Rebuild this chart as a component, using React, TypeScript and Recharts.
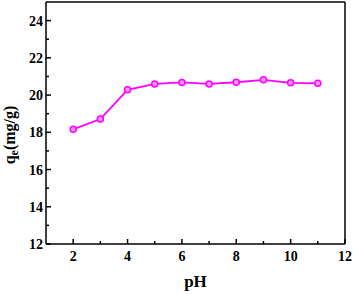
import {LineChart, Line, XAxis, YAxis, ReferenceLine} from 'recharts';

const phValues = [2, 3, 4, 5, 6, 7, 8, 9, 10, 11];
const qeValues = [18.16, 18.71, 20.28, 20.6, 20.68, 20.6, 20.69, 20.82, 20.66, 20.63];
const xTicks = [2, 3, 4, 5, 6, 7, 8, 9, 10, 11, 12];
const yTicks = [12, 13, 14, 15, 16, 17, 18, 19, 20, 21, 22, 23, 24, 25];

const data = phValues.map((ph, i) => ({ph, qe: qeValues[i]}));

const FONT = '"Liberation Serif", "Times New Roman", serif';
const PINK = '#ff00ff';

const XTick = ({x, y, payload}: any) => {
  const major = payload.value % 2 === 0;
  return (
    <g>
      <line x1={x} x2={x} y1={y} y2={y - (major ? 5 : 3)} stroke="#000" strokeWidth={1.5} />
      {major && (
        <text x={x} y={y + 17} textAnchor="middle" fontFamily={FONT} fontWeight="bold" fontSize={14} fill="#000">
          {payload.value}
        </text>
      )}
    </g>
  );
};

const YTick = ({x, y, payload}: any) => {
  const major = payload.value % 2 === 0;
  if (payload.value === 25) return null;
  return (
    <g>
      <line x1={x} x2={x + (major ? 5 : 3)} y1={y} y2={y} stroke="#000" strokeWidth={1.5} />
      {major && (
        <text x={x - 3} y={y + 5} textAnchor="end" fontFamily={FONT} fontWeight="bold" fontSize={14} fill="#000">
          {payload.value}
        </text>
      )}
    </g>
  );
};

const YLabel = ({viewBox}: any) => {
  const cx = 15;
  const cy = viewBox.y + viewBox.height / 2 + 12;
  return (
    <text
      transform={`translate(${cx},${cy}) rotate(-90)`}
      textAnchor="middle"
      fontFamily={FONT}
      fontWeight="bold"
      fontSize={16}
      fill="#000">
      q<tspan fontSize={12} dy={3}>e</tspan>
      <tspan dy={-3}>(mg/g)</tspan>
    </text>
  );
};

const Dot = ({cx, cy}: any) => (
  <circle cx={cx} cy={cy} r={3} fill="#ff99ff" stroke={PINK} strokeWidth={1.5} />
);

export default function App() {
  return (
    <div style={{position: 'absolute', left: 0, top: 0, background: '#fff'}}>
      <LineChart width={354} height={294} data={data} margin={{top: 2, right: 9, bottom: 0, left: 0}}>
        <XAxis
          dataKey="ph"
          type="number"
          domain={[1, 12]}
          ticks={xTicks}
          interval={0}
          height={50}
          tickSize={0}
          tickMargin={0}
          tickLine={false}
          axisLine={{stroke: '#000', strokeWidth: 1.5}}
          tick={<XTick />}
          label={{
            value: 'pH',
            position: 'insideBottom',
            offset: 7,
            style: {fontFamily: FONT, fontWeight: 'bold', fontSize: 17, fill: '#000'},
          }}
        />
        <YAxis
          type="number"
          domain={[12, 25]}
          ticks={yTicks}
          interval={0}
          width={46}
          tickSize={0}
          tickMargin={0}
          tickLine={false}
          axisLine={{stroke: '#000', strokeWidth: 1.5}}
          tick={<YTick />}
          label={<YLabel />}
        />
        <ReferenceLine x={12} stroke="#000" strokeWidth={1.5} />
        <ReferenceLine y={25} stroke="#000" strokeWidth={1.5} />
        <Line
          dataKey="qe"
          stroke={PINK}
          strokeWidth={1.8}
          dot={<Dot />}
          activeDot={false}
          isAnimationActive={false}
        />
      </LineChart>
    </div>
  );
}
